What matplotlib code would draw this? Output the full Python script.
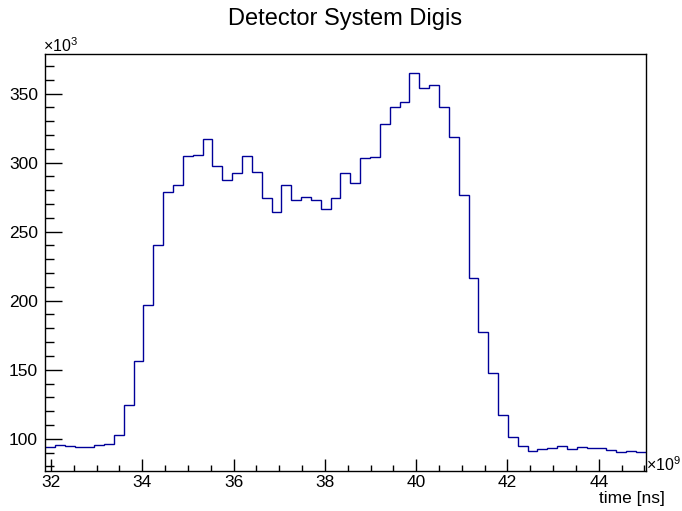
import numpy as np
import matplotlib
matplotlib.use("Agg")
import matplotlib.pyplot as plt
from matplotlib.ticker import MultipleLocator, FuncFormatter

plt.rcParams["font.family"] = ["Liberation Sans", "DejaVu Sans"]
plt.rcParams["mathtext.fontset"] = "custom"
plt.rcParams["mathtext.rm"] = "Liberation Sans"
plt.rcParams["mathtext.it"] = "Liberation Sans"

# Histogram binning (time in units of 1e9 ns)
t_min = 31.87
t_max = 45.03
n_bins = 61

# Digi counts per bin (units of 1e3)
counts = [
    94.0, 95.2, 94.7, 94.0, 94.4, 95.4, 96.4, 102.7, 124.6, 156.3,
    197.1, 240.3, 278.7, 283.8, 304.8, 305.8, 316.9, 297.8, 287.7, 292.7,
    305.0, 293.2, 274.4, 264.5, 283.6, 272.7, 275.3, 272.7, 266.6, 274.4,
    292.5, 285.0, 303.6, 304.1, 327.8, 340.6, 344.2, 364.9, 354.1, 356.0,
    340.6, 318.6, 276.3, 216.4, 177.3, 147.3, 117.4, 101.0, 94.7, 91.4,
    92.6, 93.5, 94.9, 92.7, 94.2, 93.5, 93.3, 91.6, 90.6, 91.4,
    90.6,
]

title = "Detector System Digis"
x_label = "time [ns]"
x_exp = r"$\times10^{9}$"
y_exp = r"$\times10^{3}$"

edges = np.linspace(t_min, t_max, n_bins + 1)
values = np.array(counts)

W, H = 682, 511
fig = plt.figure(figsize=(W / 100, H / 100), dpi=100)
ax = fig.add_axes([45 / W, 1 - 470.7 / H, (645.8 - 45) / W, (470.7 - 54) / H])

ax.stairs(values, edges, color="#000099", linewidth=1.0, baseline=None)

# Automatic range with a 5% margin above and below the data
span = values.max() - values.min()
ax.set_xlim(t_min, t_max)
ax.set_ylim(values.min() - 0.05 * span, values.max() + 0.05 * span)

for s in ax.spines.values():
    s.set_linewidth(1.0)
    s.set_color("black")

ax.xaxis.set_major_locator(MultipleLocator(2))
ax.xaxis.set_minor_locator(MultipleLocator(0.5))
ax.yaxis.set_major_locator(MultipleLocator(50))
ax.yaxis.set_minor_locator(MultipleLocator(10))
ax.xaxis.set_major_formatter(FuncFormatter(lambda v, p: f"{v:g}"))
ax.yaxis.set_major_formatter(FuncFormatter(lambda v, p: f"{v:g}"))

ax.tick_params(axis="x", which="major", direction="in", length=8.5, width=1, pad=3,
               labelsize=12.5, top=False)
ax.tick_params(axis="x", which="minor", direction="in", length=4.5, width=1, top=False)
ax.tick_params(axis="y", which="major", direction="in", length=12.5, width=1, pad=5,
               labelsize=12.5, right=False)
ax.tick_params(axis="y", which="minor", direction="in", length=6.5, width=1, right=False)

fig.text(0.506, 1 - 19 / H, title, ha="center", va="center", fontsize=17)
fig.text(665 / W, 1 - 503 / H, x_label, ha="right", va="baseline", fontsize=12.5)
fig.text(646 / W, 1 - 471 / H, x_exp, ha="left", va="baseline", fontsize=11.5)
fig.text(43 / W, 1 - 52 / H, y_exp, ha="left", va="baseline", fontsize=11.5)

fig.savefig("out.png", dpi=100)
